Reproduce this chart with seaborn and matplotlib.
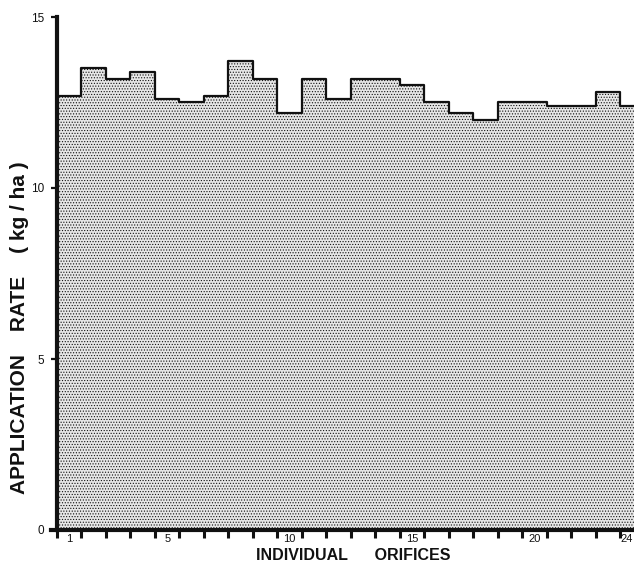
import matplotlib
matplotlib.use("Agg")
import matplotlib.pyplot as plt
import seaborn as sns
import numpy as np
import pandas as pd

orifices = list(range(1, 25))
rates = [12.7, 13.5, 13.2, 13.4, 12.6, 12.5, 12.7, 13.7, 13.2, 12.2, 13.2, 12.6,
         13.2, 13.2, 13.0, 12.5, 12.2, 12.0, 12.5, 12.5, 12.4, 12.4, 12.8, 12.4]
y_ticks = [0, 5, 10, 15]
x_tick_labels = [1, 5, 10, 15, 20, 24]

sns.set_theme(style="ticks")
plt.rcParams['font.family'] = ['Liberation Sans', 'DejaVu Sans']
plt.rcParams['hatch.color'] = '#b2b2b2'
plt.rcParams['hatch.linewidth'] = 0.5

df = pd.DataFrame({"orifice": orifices, "rate": rates})

fig = plt.figure(figsize=(6.34, 5.63), dpi=100)
ax = fig.add_axes([57/634, 33/563, (645-57)/634, (530-17)/563])

sns.histplot(data=df, x="orifice", weights="rate", discrete=True, element="step",
             fill=True, color="#e6e6e6", alpha=1.0, edgecolor="#111111",
             linewidth=1.6, hatch="......", ax=ax)

ax.set_xlim(0.5, 24.5)
ax.set_ylim(0, 15)
ax.set_yticks(y_ticks)
ax.set_yticklabels([str(v) for v in y_ticks], fontsize=8.5, color='#111111')

edges = np.arange(0.5, 25.0, 1.0)
ax.set_xticks(edges)
ax.set_xticklabels([])
ax.set_xticks(x_tick_labels, minor=True)
xtl = ax.set_xticklabels([str(v) for v in x_tick_labels], minor=True, fontsize=8, color='#111111')
xtl[-1].set_horizontalalignment('right')
ax.tick_params(axis='x', which='major', length=6, width=2.2, direction='out', color='#111111')
ax.tick_params(axis='x', which='minor', length=0, pad=3)
ax.tick_params(axis='y', length=4, width=1.6, direction='out', color='#111111', pad=5)

for s in ['top', 'right']:
    ax.spines[s].set_visible(False)
ax.spines['left'].set_linewidth(3)
ax.spines['bottom'].set_linewidth(3)
ax.spines['left'].set_color('#111111')
ax.spines['bottom'].set_color('#111111')
ax.spines['bottom'].set_bounds(0.25, 24.5)

ax.set_xlabel("")
ax.set_ylabel("")
fig.text(353/634, 1 - 556/563, "INDIVIDUAL      ORIFICES", fontsize=11.5,
         fontweight='bold', color='#111111', ha='center', va='center')
fig.text(20/634, 1 - 328/563, "APPLICATION    RATE    ( kg / ha )", fontsize=15,
         fontweight='bold', color='#111111', ha='center', va='center', rotation=90)

fig.savefig("out.png", dpi=100)
